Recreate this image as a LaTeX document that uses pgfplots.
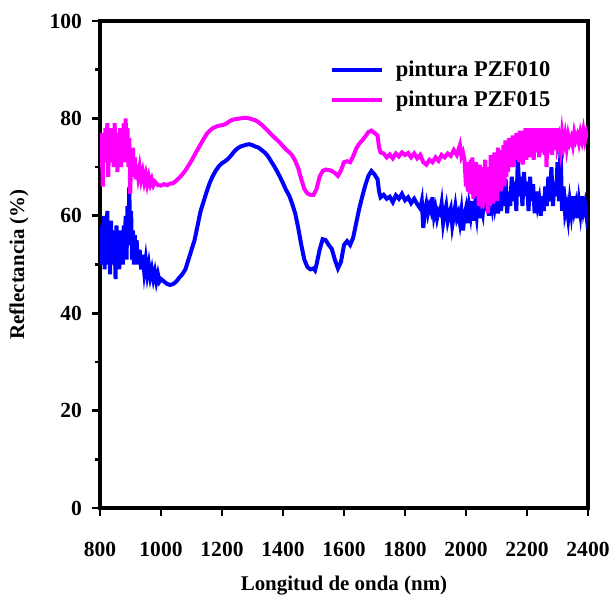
\documentclass[border=0pt]{standalone}
\usepackage{pgfplots}
\pgfplotsset{compat=1.18}
\usepackage{fontspec}
\setmainfont{Liberation Serif}
\definecolor{cblue}{RGB}{0,0,255}
\definecolor{cmag}{RGB}{255,0,255}
\begin{document}
\begin{tikzpicture}
\path[use as bounding box] (-50bp,-43.5bp) rectangle (255bp,254bp);
\begin{axis}[
  at={(0,0)}, anchor=south west,
  scale only axis, width=244bp, height=243.5bp,
  xmin=800, xmax=2400, ymin=0, ymax=100,
  xtick={800,1000,...,2400}, ytick={0,20,...,100},
  minor ytick={10,30,50,70,90},
  tick align=outside, xtick pos=bottom, ytick pos=left,
  major tick length=4bp, minor tick length=2.5bp,
  every tick/.style={black, line width=1.3bp},
  axis line style={line width=1.6bp},
  /pgf/number format/assume math mode=true,
  /pgf/number format/set thousands separator={},
  tick label style={font=\fontsize{10.8}{12}\selectfont\bfseries},
  xticklabel style={yshift=-9.5bp},
  yticklabel style={xshift=-1.5bp},
  xlabel={Longitud de onda (nm)}, ylabel={Reflectancia (\%)},
  label style={font=\fontsize{10.5}{12}\selectfont\bfseries},
  x label style={at={(axis description cs:0.5,-0.159)}, anchor=center},
  y label style={at={(axis description cs:-0.166,0.5)}, anchor=center},
  legend style={draw=none, fill=none, at={(axis description cs:0.458,0.935)}, anchor=north west,
    font=\fontsize{11.3}{13}\selectfont\bfseries, row sep=1.5bp},
  legend cell align=left,
  legend image code/.code={\draw[#1, line width=2bp] (0bp,0bp) -- (25bp,0bp); \path (29bp,0bp);},
]
\addplot[cblue, line width=2bp] coordinates {
(800,55) (803,50) (806,58) (809,52) (812,60) (815,49) (818,57) (821,53) (824,61) (827,50)
(830,56) (833,48) (836,59) (839,51) (842,57) (845,50) (848,55) (851,47) (854,58) (857,52)
(860,56) (863,49) (866,57) (869,53) (872,55) (875,50) (878,58) (881,52) (884,60) (887,51)
(890,62) (893,55) (896,66) (899,54) (902,61) (905,51) (908,57) (911,50) (914,56) (917,51)
(920,55) (925,50) (930,53) (935,49) (940,52) (945,48.5) (950,51) (955,48) (960,50) (965,47.5)
(970,49) (975,47) (980,48.5) (985,46.5) (990,48) (995,46.5) (1000,47) (1010,46.5) (1020,46) (1030,45.8)
(1040,46) (1050,46.5) (1060,47.3) (1070,48) (1080,49) (1090,51) (1100,53) (1110,55) (1120,58) (1130,61)
(1140,63) (1150,65) (1160,66.8) (1170,68.2) (1180,69.3) (1190,70.2) (1200,70.8) (1210,71.2) (1220,71.7) (1230,72.4)
(1240,73.2) (1250,73.8) (1260,74.2) (1270,74.4) (1280,74.6) (1290,74.7) (1300,74.5) (1310,74.2) (1320,74) (1330,73.5)
(1340,73) (1350,72.3) (1360,71.3) (1370,70.3) (1380,69.2) (1390,68) (1400,66.7) (1410,65.3) (1420,64.2) (1430,62.5)
(1440,60.5) (1450,57.5) (1460,54) (1470,51) (1480,49.5) (1490,49) (1500,49.2) (1505,48.8) (1510,50) (1520,53)
(1530,55.2) (1540,55) (1550,54) (1560,53.2) (1570,51) (1580,49.2) (1590,50.5) (1600,54) (1610,54.8) (1620,54)
(1630,55.5) (1640,58.5) (1650,61.5) (1660,64) (1670,66.3) (1680,68.2) (1690,69.2) (1700,68.5) (1710,67.5) (1715,65)
(1720,63.8) (1730,64.3) (1740,63.5) (1750,63.9) (1760,62.8) (1770,64.2) (1780,63.5) (1790,64.5) (1800,63.2) (1810,63.8)
(1820,62.6) (1830,63.5) (1840,62.4) (1850,61.5) (1855,63) (1860,57.5) (1865,61) (1870,62.5) (1875,60.5) (1880,62)
(1885,61) (1890,63.8) (1895,60) (1900,61.5) (1905,59.5) (1910,61) (1915,60.5) (1920,62.5) (1925,58.5) (1930,60.5)
(1935,62) (1940,59) (1945,60.5) (1950,61.5) (1955,58) (1960,60) (1965,62) (1970,59.5) (1975,60.5) (1980,58.5)
(1985,61) (1990,57) (1995,60) (2000,61.5) (2005,58.5) (2010,62) (2015,60) (2020,63) (2025,59) (2030,62.5)
(2035,60) (2040,64) (2045,59.5) (2050,62) (2055,60.5) (2060,64) (2065,61) (2070,66) (2075,60) (2080,63)
(2085,61.5) (2090,65) (2095,62) (2100,64) (2105,60.5) (2110,63.5) (2115,61) (2120,66) (2125,62) (2130,67.5)
(2135,60.5) (2140,65) (2145,62) (2150,68) (2155,63) (2160,67) (2165,61) (2170,72) (2175,64) (2180,68)
(2185,62) (2190,69) (2195,64) (2200,67) (2205,61) (2210,68) (2215,63) (2220,66.5) (2225,60.5) (2230,65)
(2235,62) (2240,63.5) (2245,60) (2250,64) (2255,61) (2260,66) (2265,62) (2270,68) (2275,63) (2280,70)
(2285,62) (2290,67) (2295,64) (2300,71) (2305,63) (2310,74) (2315,61) (2320,66) (2325,60.5) (2330,62)
(2335,59.5) (2340,63) (2345,60.5) (2350,64) (2355,61) (2360,62.5) (2365,59.5) (2370,63) (2375,60.5) (2380,64)
(2385,61) (2390,62.5) (2395,60) (2400,62)
};
\addlegendentry{pintura PZF010}
\addplot[cmag, line width=2bp] coordinates {
(800,74) (803,70) (806,77) (809,66) (812,75) (815,71) (818,78) (821,72) (824,79) (827,68)
(830,76) (833,71) (836,78) (839,73) (842,76) (845,70) (848,79) (851,72) (854,77) (857,69)
(860,75) (863,72) (866,78) (869,70) (872,76) (875,73) (878,79) (881,71) (884,80) (887,73)
(890,78) (893,70) (896,76) (899,64.5) (902,72) (905,69) (908,74) (911,68) (914,72) (917,67.5)
(920,70.5) (925,68) (930,70) (935,67.5) (940,69) (945,67) (950,68.5) (955,66.5) (960,68) (965,66.5)
(970,67.5) (975,66.3) (980,67) (990,66.3) (1000,66.2) (1010,66.5) (1020,66.3) (1030,66.6) (1040,66.7) (1050,67.2)
(1060,67.8) (1070,68.5) (1080,69.3) (1090,70.3) (1100,71.3) (1110,72.5) (1120,73.6) (1130,74.7) (1140,75.8) (1150,76.8)
(1160,77.5) (1170,78) (1180,78.3) (1190,78.5) (1200,78.6) (1210,78.8) (1220,79.2) (1230,79.6) (1240,79.8) (1250,79.9)
(1260,80) (1270,80.1) (1280,80.1) (1290,80) (1300,79.8) (1310,79.6) (1320,79.2) (1330,78.7) (1340,78.1) (1350,77.5)
(1360,76.8) (1370,76.2) (1380,75.6) (1390,75) (1400,74.3) (1410,73.6) (1420,73.1) (1430,72.4) (1440,71.3) (1450,69.8)
(1460,67.5) (1470,65.5) (1480,64.6) (1490,64.3) (1500,64.3) (1510,65.5) (1520,68) (1530,69.2) (1540,69.5) (1550,69.4)
(1560,69.2) (1570,68.8) (1580,68.2) (1590,69.3) (1600,71) (1610,71.2) (1620,71) (1630,72.2) (1640,73.8) (1650,74.8)
(1660,75.5) (1670,76.3) (1680,77.2) (1690,77.5) (1700,77) (1710,76.5) (1715,74) (1720,73) (1730,72.8) (1740,72)
(1750,72.6) (1760,71.8) (1770,72.8) (1780,72.2) (1790,73) (1800,72.5) (1810,72.9) (1820,72) (1830,72.8) (1840,71.8)
(1850,72.5) (1860,71) (1870,70.5) (1880,71.5) (1890,71) (1900,72) (1910,71.3) (1920,72.5) (1930,72) (1940,72.8)
(1950,72.3) (1960,73.5) (1970,72.5) (1980,74.5) (1985,72.2) (1990,73) (1995,71.5) (2000,66) (2003,71) (2006,65)
(2009,70) (2012,64.5) (2015,71.5) (2018,66) (2021,72) (2024,63.5) (2027,70) (2030,65.5) (2033,71) (2036,64)
(2039,69) (2042,62) (2045,70.5) (2048,63) (2051,68) (2054,61.5) (2057,70) (2060,64) (2063,71.5) (2066,62.5)
(2069,69) (2072,60.5) (2075,70) (2078,62) (2081,72.5) (2084,64) (2087,71) (2090,62.5) (2093,73) (2096,65)
(2099,72) (2102,63) (2105,74) (2108,66) (2111,72) (2114,65) (2117,73.5) (2120,67) (2123,74.5) (2126,66)
(2129,75.5) (2132,68) (2135,74) (2138,69) (2141,76) (2144,70) (2147,75) (2150,71) (2153,76.5) (2156,70)
(2159,75) (2162,71.5) (2165,77) (2168,72) (2171,76) (2174,71) (2177,77.5) (2180,72) (2183,76) (2186,70.5)
(2189,77.5) (2192,72.5) (2195,78) (2198,71.5) (2201,77) (2204,73) (2207,78) (2210,72) (2213,78) (2216,74)
(2219,77) (2222,71.5) (2225,78) (2228,73) (2231,78) (2234,74.5) (2237,77.5) (2240,72) (2243,78) (2246,74)
(2249,78) (2252,73) (2255,77) (2258,72.5) (2261,78) (2264,70) (2267,77) (2270,74) (2273,78) (2276,73)
(2279,77.5) (2282,72.5) (2285,78) (2288,74) (2291,77) (2294,73.5) (2297,78) (2300,74.5) (2305,76) (2310,73.5)
(2315,77) (2320,74.5) (2325,76.5) (2330,74) (2335,76.5) (2340,75) (2345,76) (2350,74.5) (2355,77) (2360,75.5)
(2365,76.5) (2370,75) (2375,77) (2380,75.5) (2385,77.5) (2390,75.5) (2395,77) (2400,76)
};
\addlegendentry{pintura PZF015}
\end{axis}
\end{tikzpicture}
\end{document}
